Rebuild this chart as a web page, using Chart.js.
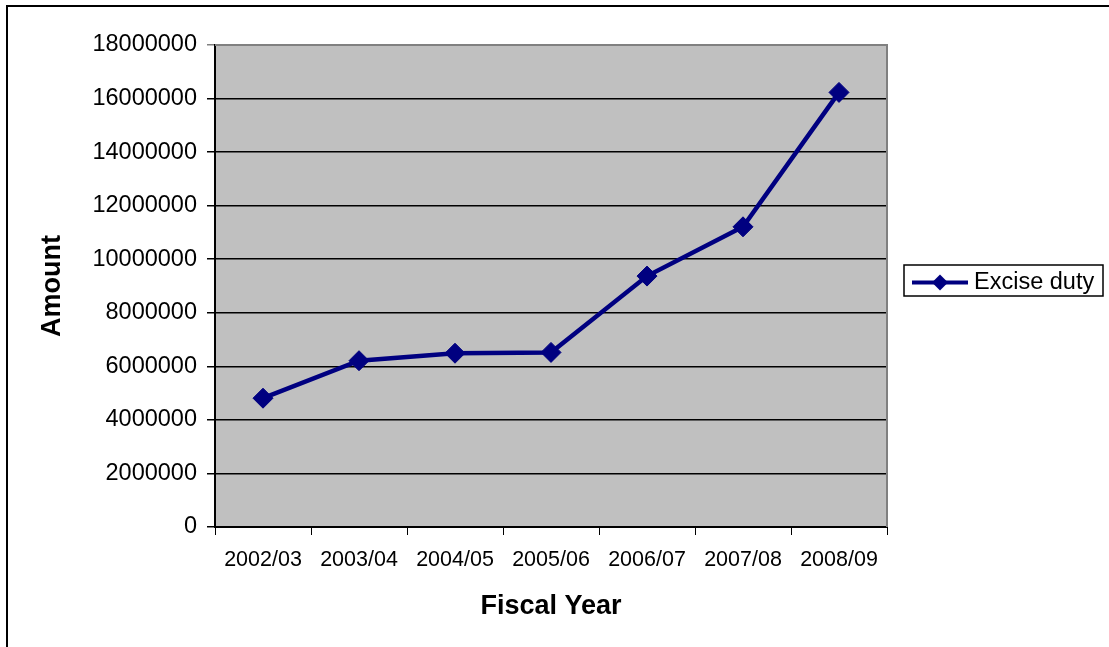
<!DOCTYPE html>
<html>
<head>
<meta charset="utf-8">
<script src="https://cdn.jsdelivr.net/npm/chart.js@4/dist/chart.umd.min.js"></script>
<style>
html,body{margin:0;padding:0;background:#fff;}
#wrap{width:1109px;height:647px;position:relative;}
</style>
</head>
<body>
<div id="wrap"><canvas id="c" width="1109" height="647"></canvas></div>
<script>
const categories = ["2002/03","2003/04","2004/05","2005/06","2006/07","2007/08","2008/09"];
const exciseDuty = [4810000, 6210000, 6490000, 6520000, 9370000, 11210000, 16230000];
const seriesName = "Excise duty";
const yMin = 0, yMax = 18000000, yStep = 2000000;
const xTitle = "Fiscal Year";
const yTitle = "Amount";

const FONT = "'Liberation Sans', Arial, sans-serif";
const LINE = "#000080";

const bgPlugin = {
  id: 'bg',
  beforeDraw(chart) {
    const {ctx, chartArea: a} = chart;
    ctx.save();
    ctx.fillStyle = '#fff';
    ctx.fillRect(0, 0, chart.width, chart.height);
    ctx.fillStyle = '#C0C0C0';
    ctx.fillRect(a.left, a.top, a.right - a.left, a.bottom - a.top);
    ctx.restore();
  },
  afterDraw(chart) {
    const {ctx, chartArea: a} = chart;
    ctx.save();
    ctx.strokeStyle = '#808080';
    ctx.lineWidth = 2;
    ctx.beginPath();
    ctx.moveTo(a.left, a.top);
    ctx.lineTo(a.right, a.top);
    ctx.lineTo(a.right, a.bottom);
    ctx.stroke();
    ctx.strokeStyle = '#000';
    ctx.lineWidth = 2;
    ctx.strokeRect(7, 6, 1120, 660);
    const lx = 904, ly = 265, lw = 199, lh = 31;
    ctx.fillStyle = '#fff';
    ctx.fillRect(lx, ly, lw, lh);
    ctx.lineWidth = 1.5;
    ctx.strokeStyle = '#000';
    ctx.strokeRect(lx, ly, lw, lh);
    const cy = ly + lh / 2 + 2;
    ctx.strokeStyle = LINE;
    ctx.lineWidth = 4;
    ctx.beginPath();
    ctx.moveTo(912, cy);
    ctx.lineTo(968, cy);
    ctx.stroke();
    ctx.fillStyle = LINE;
    ctx.beginPath();
    const r = 8;
    ctx.moveTo(940, cy - r);
    ctx.lineTo(940 + r, cy);
    ctx.lineTo(940, cy + r);
    ctx.lineTo(940 - r, cy);
    ctx.closePath();
    ctx.fill();
    ctx.fillStyle = '#000';
    ctx.font = "23.5px " + FONT;
    ctx.textBaseline = 'middle';
    ctx.fillText(seriesName, 974, cy);
    ctx.restore();
  }
};

new Chart(document.getElementById('c'), {
  type: 'line',
  data: {
    labels: categories,
    datasets: [{
      label: seriesName,
      data: exciseDuty,
      borderColor: LINE,
      backgroundColor: LINE,
      borderWidth: 4.5,
      pointStyle: 'rectRot',
      pointRadius: 10,
      pointBorderWidth: 1,
      pointBackgroundColor: LINE,
      pointBorderColor: LINE,
      tension: 0,
      fill: false
    }]
  },
  options: {
    responsive: false,
    animation: false,
    devicePixelRatio: 1,
    layout: { padding: { left: 36, right: 222, top: 45, bottom: 20 } },
    plugins: { legend: { display: false }, tooltip: { enabled: false } },
    scales: {
      x: {
        offset: true,
        grid: {
          offset: true,
          drawOnChartArea: false,
          drawTicks: true,
          tickLength: 8,
          color: '#000',
          lineWidth: 1
        },
        border: { display: true, color: '#000', width: 2 },
        ticks: { color: '#000', font: { family: FONT, size: 21.5 }, padding: 12, maxRotation: 0, autoSkip: false },
        title: { display: true, text: xTitle, color: '#000', font: { family: FONT, size: 27, weight: 'bold' }, padding: { top: 14 } },
        afterFit(s) { s.height = 100; }
      },
      y: {
        min: yMin, max: yMax,
        ticks: {
          stepSize: yStep, color: '#000', font: { family: FONT, size: 23.5 }, padding: 10,
          callback: v => String(v)
        },
        grid: {
          color: ctx => (ctx.tick && ctx.tick.value === yMax) ? '#808080' : '#000',
          lineWidth: 1.5,
          tickLength: 8,
          drawTicks: true
        },
        border: { display: true, color: '#000', width: 2 },
        title: { display: true, text: yTitle, color: '#000', font: { family: FONT, size: 27, weight: 'bold' }, padding: 0 },
        afterFit(s) { s.width = 179; }
      }
    }
  },
  plugins: [bgPlugin]
});
</script>
</body>
</html>
